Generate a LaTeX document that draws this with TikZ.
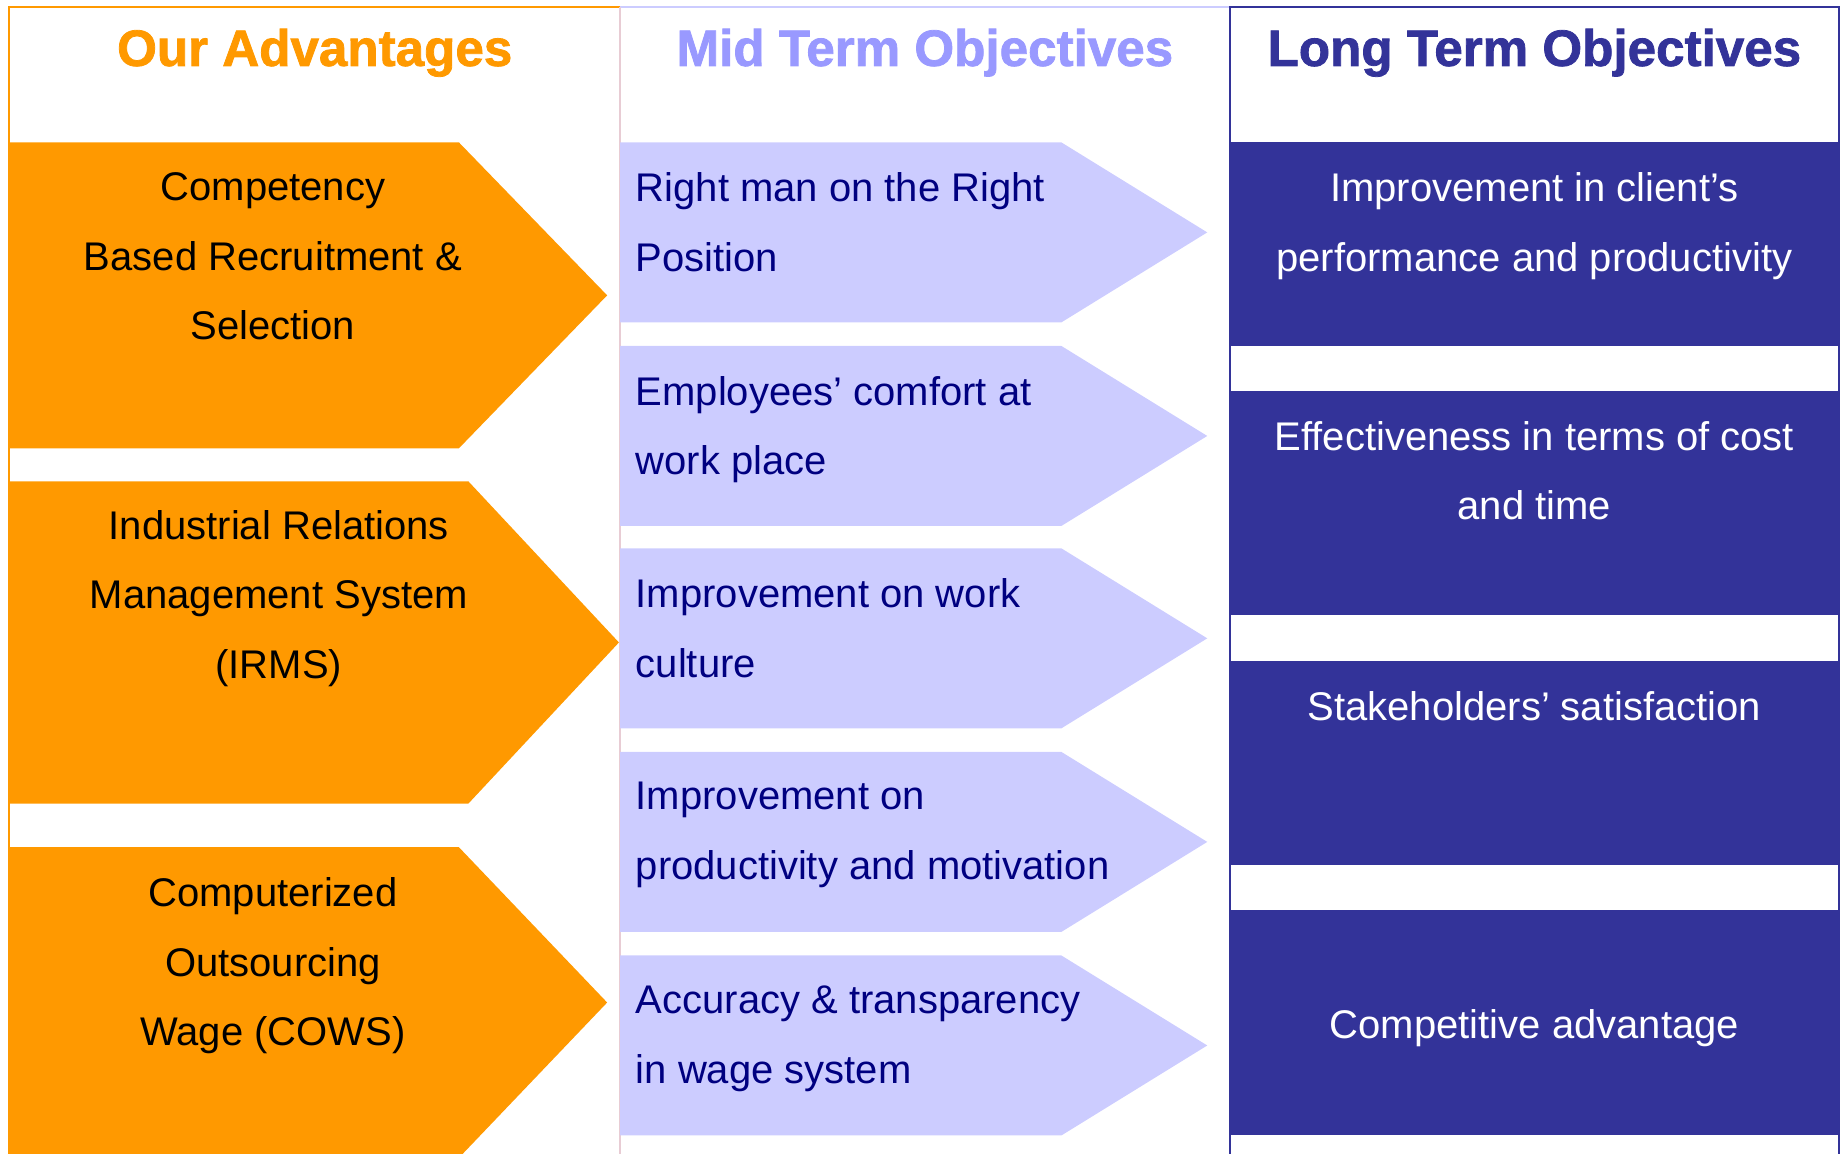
\documentclass[tikz,border=0pt]{standalone}
\usepackage{fontspec}
\setmainfont{Liberation Sans}
\newfontfamily\headfont{Liberation Sans}[BoldFeatures={FakeBold=1.5}]

\definecolor{advorange}{HTML}{FF9900}
\definecolor{midlilac}{HTML}{CCCCFF}
\definecolor{midhead}{HTML}{9999FF}
\definecolor{midtext}{HTML}{000080}
\definecolor{midline}{HTML}{E8CCD4}
\definecolor{longblue}{HTML}{333399}

\tikzset{
  head/.style={anchor=base, inner sep=0, font=\headfont\bfseries\fontsize{24.75}{30}\selectfont},
  body/.style={anchor=north, inner sep=0, align=center, font=\fontsize{19.35}{33.6}\selectfont},
  midbody/.style={body, anchor=north west, align=left, text=midtext},
  longbody/.style={body, text=white},
}

\begin{document}
\begin{tikzpicture}[x=0.02cm, y=-0.02cm]
  \useasboundingbox (0,0) rectangle (1568,980);
  \clip (0,0) rectangle (1568,980);

  \newcommand{\chev}[6]{
    \fill[#1] (#2,#5) -- (#3,#5) -- (#4,{(#5+#6)/2}) -- (#3,#6) -- (#2,#6) -- cycle;
  }

  % column frames
  \draw[advorange, line width=1pt] (8,990) -- (8,6) -- (527,6);
  \draw[midlilac, line width=1pt] (527,6) -- (1045,6);
  \draw[midline, line width=1pt] (527,6) -- (527,990);
  \draw[longblue, line width=1pt] (1045,990) -- (1045,6) -- (1563,6) -- (1563,990);

  % headers
  \node[head, text=advorange] (advhead) at (267.5,56) {Our Advantages};
  \node[head, text=midhead] (midhead) at (786,56) {Mid Term Objectives};
  \node[head, text=longblue] (longhead) at (1304,56) {Long Term Objectives};

  % our advantages
  \chev{advorange}{8}{390}{516}{121}{381}
  \chev{advorange}{8}{398}{526}{409}{683}
  \chev{advorange}{8}{390}{516}{720}{984}
  \node[body] (adv1) at (232,146.5) {Competency\\Based Recruitment \&\\Selection};
  \node[body] (adv2) at (237,433.5) {Industrial Relations\\Management System\\(IRMS)};
  \node[body] (adv3) at (232,745.5) {Computerized\\Outsourcing\\Wage (COWS)};

  % mid term
  \foreach \t in {121,294,466,639,812}
    \chev{midlilac}{527}{902}{1026}{\t}{\t+153};
  \node[midbody] (mid1) at (540,146.5) {Right man on the Right\\Position};
  \node[midbody] (mid2) at (540,319.5) {Employees’ comfort at\\work place};
  \node[midbody] (mid3) at (540,491.5) {Improvement on work\\culture};
  \node[midbody] (mid4) at (540,664.5) {Improvement on\\productivity and motivation};
  \node[midbody] (mid5) at (540,837.5) {Accuracy \& transparency\\in wage system};

  % long term
  \fill[longblue] (1045,121) rectangle (1563,294);
  \fill[longblue] (1045,332) rectangle (1563,523);
  \fill[longblue] (1045,562) rectangle (1563,735);
  \fill[longblue] (1045,773) rectangle (1563,965);
  \node[longbody] (long1) at (1304,146.5) {Improvement in client’s\\performance and productivity};
  \node[longbody] (long2) at (1304,357.5) {Effectiveness in terms of cost\\and time};
  \node[longbody] (long3) at (1304,587.5) {Stakeholders’ satisfaction};
  \node[longbody] (long4) at (1304,857.5) {Competitive advantage};

\end{tikzpicture}
\end{document}
